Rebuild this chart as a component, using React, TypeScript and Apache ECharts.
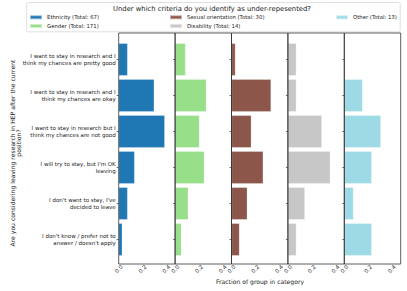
import React, { useEffect, useRef } from "react";
import * as echarts from "echarts";

const categories = [
  "I want to stay in research and I\nthink my chances are pretty good",
  "I want to stay in research and I\nthink my chances are okay",
  "I want to stay in research but I\nthink my chances are not good",
  "I will try to stay, but I'm OK\nleaving",
  "I don't want to stay, I've\ndecided to leave",
  "I don't know / prefer not to\nanswer / doesn't apply",
];

const groupNames = [
  "Ethnicity (Total: 67)",
  "Gender (Total: 171)",
  "Sexual orientation (Total: 30)",
  "Disability (Total: 14)",
  "Other (Total: 13)",
];
const groupColors = ["#1f77b4", "#98df8a", "#8c564b", "#c7c7c7", "#9edae5"];

const ethnicity = [0.075, 0.299, 0.388, 0.134, 0.075, 0.03];
const gender = [0.088, 0.263, 0.205, 0.246, 0.111, 0.053];
const sexualOrientation = [0.033, 0.333, 0.167, 0.267, 0.133, 0.067];
const disability = [0.071, 0.071, 0.286, 0.357, 0.143, 0.071];
const other = [0, 0.154, 0.308, 0.231, 0.077, 0.231];

const groupValues = [ethnicity, gender, sexualOrientation, disability, other];

const titleText = "Under which criteria do you identify as under-repesented?";
const xAxisTitle = "Fraction of group in category";
const yAxisTitle1 = "Are you considering leaving research in HEP after the current";
const yAxisTitle2 = "position?";

const FONT = "DejaVu Sans";

export default function App() {
  const ref = useRef<HTMLDivElement>(null);
  useEffect(() => {
    if (!ref.current) return;
    const chart = echarts.init(ref.current, null, { renderer: "svg" });
    const panelLeft0 = 118.7;
    const panelW = 56.4;
    const frameTop = 33;
    const frameBottom = 264;
    const gridTop = 41.5;
    const gridH = 216;

    const grids: any[] = [];
    const xAxes: any[] = [];
    const yAxes: any[] = [];
    const series: any[] = [];
    const frames: any[] = [];
    groupValues.forEach((vals, i) => {
      const left = panelLeft0 + i * panelW;
      grids.push({ left, top: gridTop, width: panelW, height: gridH, containLabel: false });
      xAxes.push({
        type: "value",
        gridIndex: i,
        min: 0,
        max: 0.475,
        interval: 0.2,
        offset: frameBottom - (gridTop + gridH),
        axisLine: { show: false },
        axisTick: { show: false },
        splitLine: { show: false },
        axisLabel: {
          rotate: 45,
          showMaxLabel: false,
          fontSize: 5.5,
          fontFamily: FONT,
          color: "#222",
          margin: 5,
          align: "center",
          verticalAlign: "middle",
          formatter: (v: number) => v.toFixed(1),
        },
      });
      yAxes.push({
        type: "category",
        gridIndex: i,
        inverse: true,
        data: categories,
        axisLine: { show: false },
        axisTick: { show: true, alignWithLabel: true, length: 2, lineStyle: { color: "#333", width: 0.7 } },
        axisLabel: {
          show: i === 0,
          fontSize: 5.5,
          fontFamily: FONT,
          color: "#222",
          align: "right",
          lineHeight: 6.7,
          margin: 3,
        },
      });
      series.push({
        type: "bar",
        name: groupNames[i],
        xAxisIndex: i,
        yAxisIndex: i,
        data: vals,
        barWidth: "90%",
        itemStyle: { color: groupColors[i], borderColor: "rgba(255,255,255,0.5)", borderWidth: 0.5 },
      });
      frames.push({
        type: "rect",
        shape: { x: left, y: frameTop, width: panelW, height: frameBottom - frameTop },
        style: { fill: "none", stroke: "#333", lineWidth: 0.8 },
        z: 100,
      });
    });

    const legendPos = [
      { left: 29, top: 14.3 },
      { left: 29, top: 23 },
      { left: 169, top: 14.3 },
      { left: 169, top: 23 },
      { left: 335, top: 14.3 },
    ];
    const legends = groupNames.map((n, i) => ({
      data: [n],
      left: legendPos[i].left,
      top: legendPos[i].top,
      padding: 0,
      itemWidth: 12,
      itemHeight: 4,
      icon: "rect",
      textStyle: { fontSize: 5.35, fontFamily: FONT, color: "#222" },
      selectedMode: false,
    }));

    chart.setOption({
      animation: false,
      backgroundColor: "#fff",
      grid: grids,
      xAxis: xAxes,
      yAxis: yAxes,
      series,
      legend: legends,
      graphic: [
        {
          type: "rect",
          shape: { x: 26.7, y: 2.5, width: 373.5, height: 29.3, r: 1.5 },
          style: { fill: "#fff", stroke: "#d8d8d8", lineWidth: 0.8 },
          z: -10,
        },
        {
          type: "text",
          x: 212,
          y: 9,
          style: { text: titleText, textAlign: "center", textVerticalAlign: "middle", fontSize: 6.8, fontFamily: FONT, fill: "#222" },
        },
        ...frames,
        {
          type: "text",
          x: 260,
          y: 281.7,
          style: { text: xAxisTitle, textAlign: "center", textVerticalAlign: "middle", fontSize: 6.1, fontFamily: FONT, fill: "#222" },
        },
        {
          type: "text",
          x: 12,
          y: 153,
          rotation: Math.PI / 2,
          style: { text: yAxisTitle1, textAlign: "center", textVerticalAlign: "middle", fontSize: 6.1, fontFamily: FONT, fill: "#222" },
        },
        {
          type: "text",
          x: 18.5,
          y: 143,
          rotation: Math.PI / 2,
          style: { text: yAxisTitle2, textAlign: "center", textVerticalAlign: "middle", fontSize: 6.1, fontFamily: FONT, fill: "#222" },
        },
      ],
    });
    return () => chart.dispose();
  }, []);
  return <div ref={ref} style={{ position: "fixed", left: 0, top: 0, width: 407, height: 291 }} />;
}
